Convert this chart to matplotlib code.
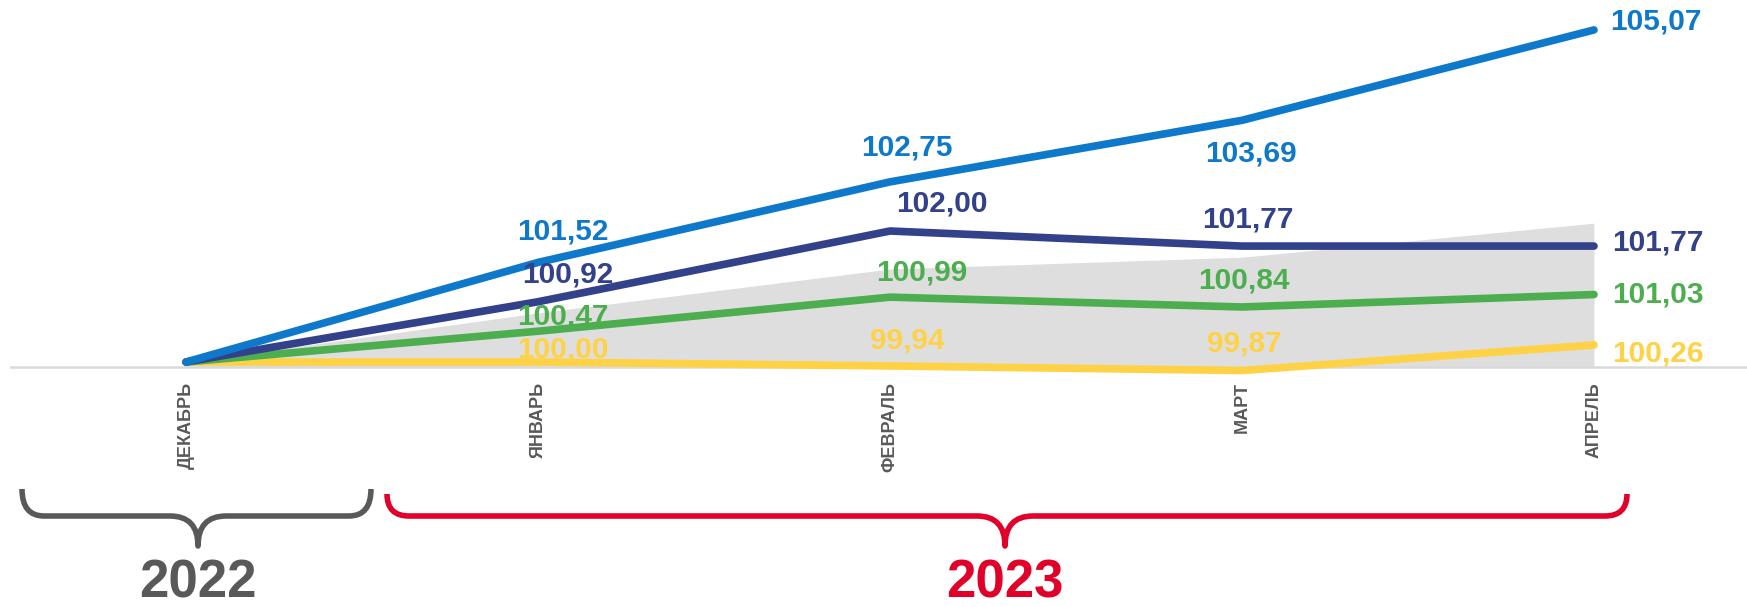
import numpy as np
import matplotlib
matplotlib.use("Agg")
import matplotlib.pyplot as plt
from matplotlib.path import Path
from matplotlib.patches import PathPatch

plt.rcParams['font.family'] = ['Liberation Sans', 'DejaVu Sans']

# data
months = ["ДЕКАБРЬ", "ЯНВАРЬ", "ФЕВРАЛЬ", "МАРТ", "АПРЕЛЬ"]
blue_vals = [100.00, 101.52, 102.75, 103.69, 105.07]
navy_vals = [100.00, 100.92, 102.00, 101.77, 101.77]
green_vals = [100.00, 100.47, 100.99, 100.84, 101.03]
yellow_vals = [100.00, 100.00, 99.94, 99.87, 100.26]
gray_vals = [100.00, 100.75, 101.42, 101.60, 102.12]
years = ["2022", "2023"]

# label offsets in pixels (dx, dy), Dec has no label
blue_off = [None, (25, 31), (17, 34), (9, -33), (16, 8)]
navy_off = [None, (30, 27), (52, 27), (6, 27), (18, 4)]
green_off = [None, (25, 15), (32, 25), (2, 26), (18, 0)]
yellow_off = [None, (25, 13), (17, 25), (2, 27), (18, -9)]

C_BLUE = "#0E78CA"
C_NAVY = "#33418A"
C_GREEN = "#4DAE4F"
C_YELLOW = "#FFD246"
C_GRAY = "#DEDEDE"
C_TXT = "#595959"
C_RED = "#E1002A"

W, H = 1747, 607
fig = plt.figure(figsize=(W / 100, H / 100), dpi=100)
ax = fig.add_axes([11 / W, (H - 367) / H, 1 - 11 / W, 367 / H])

x = np.arange(len(months))
ax.fill_between(x, 99.0, gray_vals, color=C_GRAY, lw=0, zorder=1)

series = [
    (yellow_vals, C_YELLOW, yellow_off),
    (green_vals, C_GREEN, green_off),
    (navy_vals, C_NAVY, navy_off),
    (blue_vals, C_BLUE, blue_off),
]
for i, (vals, col, offs) in enumerate(series):
    ax.plot(x, vals, color=col, lw=5.5, solid_capstyle='round',
            solid_joinstyle='round', clip_on=False, zorder=3 + i)
    for j, v in enumerate(vals):
        if offs[j] is None:
            continue
        ha = 'left' if j == len(vals) - 1 else 'center'
        ax.annotate(f"{v:.2f}".replace('.', ','), (j, v), xytext=offs[j],
                    textcoords='offset pixels', ha=ha, va='center',
                    color=col, fontsize=21.5, fontweight='bold', zorder=10,
                    annotation_clip=False)

ax.set_xlim((11 - 186) / 352, (W - 186) / 352)
ax.set_ylim(100 - 5 / 65.5, 100 + 362 / 65.5)
for s in ['left', 'right', 'top']:
    ax.spines[s].set_visible(False)
ax.spines['bottom'].set_color("#D9D9D9")
ax.spines['bottom'].set_linewidth(1.8)
ax.set_yticks([])
ax.set_xticks(x)
ax.set_xticklabels(months, rotation=90, fontsize=13, fontweight='bold',
                   color=C_TXT, va='top')
ax.tick_params(axis='x', length=0, pad=11)
ax.patch.set_alpha(0)

# braces and years in pixel coordinates
ov = fig.add_axes([0, 0, 1, 1], zorder=-1)
ov.set_xlim(0, W)
ov.set_ylim(H, 0)
ov.axis('off')


def brace(x0, x1, xm, ytop, ybar, ytip, col):
    r1, r2 = 22, 28
    verts = [(x0, ytop), (x0, ybar), (x0 + r1, ybar),
             (xm - r2, ybar), (xm, ybar), (xm, ytip),
             (xm, ybar), (xm + r2, ybar),
             (x1 - r1, ybar), (x1, ybar), (x1, ytop)]
    codes = [Path.MOVETO, Path.CURVE3, Path.CURVE3,
             Path.LINETO, Path.CURVE3, Path.CURVE3,
             Path.CURVE3, Path.CURVE3,
             Path.LINETO, Path.CURVE3, Path.CURVE3]
    ov.add_patch(PathPatch(Path(verts, codes), fill=False, edgecolor=col,
                           lw=4, capstyle='butt', joinstyle='round'))


brace(22, 371, 198, 489, 516, 546, C_TXT)
brace(387, 1627, 1005, 494, 516, 546, C_RED)
ov.text(198, 583, years[0], ha='center', va='center', fontsize=38,
        fontweight='bold', color=C_TXT)
ov.text(1005, 583, years[1], ha='center', va='center', fontsize=38,
        fontweight='bold', color=C_RED)

fig.savefig("out.png", dpi=100)
